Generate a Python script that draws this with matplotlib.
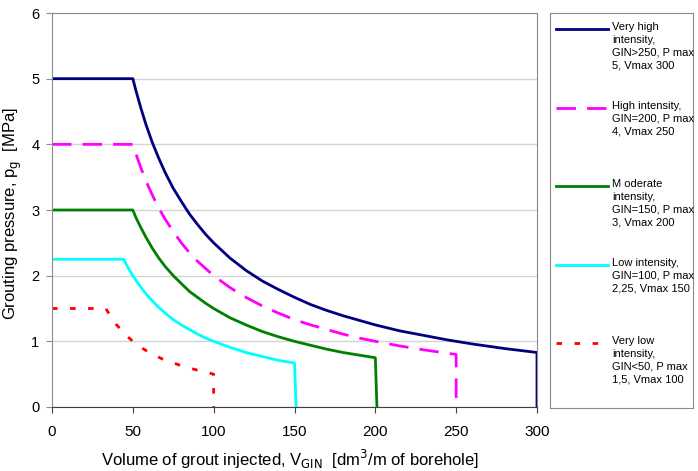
import numpy as np
from matplotlib import pyplot as plt

plt.rcParams['font.family'] = ['Liberation Sans', 'DejaVu Sans']

# Very high intensity, GIN>250
v_vh = [0, 50, 52, 55, 58, 62, 66, 70, 75, 80, 85, 90, 95, 100, 110, 120, 130, 140, 150, 160, 170,
        180, 190, 200, 215, 230, 245, 260, 280, 300, 300]
p_vh = [5, 5, 4.81, 4.55, 4.31, 4.03, 3.79, 3.57, 3.33, 3.13, 2.94, 2.78, 2.63, 2.5, 2.27, 2.08, 1.92,
        1.79, 1.67, 1.56, 1.47, 1.39, 1.32, 1.25, 1.16, 1.09, 1.02, 0.96, 0.89, 0.83, 0]

# High intensity, GIN=200
v_h = [0, 50, 52, 55, 58, 62, 66, 70, 75, 80, 85, 90, 95, 100, 110, 120, 130, 140, 150, 160, 170,
       180, 190, 200, 215, 230, 250, 250]
p_h = [4, 4, 3.85, 3.64, 3.45, 3.23, 3.03, 2.86, 2.67, 2.5, 2.35, 2.22, 2.11, 2.0, 1.82, 1.67, 1.54,
       1.43, 1.33, 1.25, 1.18, 1.11, 1.05, 1.0, 0.93, 0.87, 0.8, 0]

# Moderate intensity, GIN=150
v_m = [0, 50, 52, 55, 58, 62, 66, 70, 75, 80, 85, 90, 95, 100, 110, 120, 130, 140, 150, 160, 170,
       180, 190, 200, 201]
p_m = [3, 3, 2.88, 2.73, 2.59, 2.42, 2.27, 2.14, 2.0, 1.88, 1.76, 1.67, 1.58, 1.5, 1.36, 1.25, 1.15,
       1.07, 1.0, 0.94, 0.88, 0.83, 0.79, 0.75, 0]

# Low intensity, GIN=100
v_l = [0, 44.4, 46, 48, 50, 53, 56, 60, 65, 70, 75, 80, 85, 90, 95, 100, 110, 120, 130, 140, 150, 151]
p_l = [2.25, 2.25, 2.17, 2.08, 2.0, 1.89, 1.79, 1.67, 1.54, 1.43, 1.33, 1.25, 1.18, 1.11, 1.05, 1.0,
       0.91, 0.83, 0.77, 0.71, 0.67, 0]

# Very low intensity, GIN<50
v_vl = [0, 33.3, 36, 40, 45, 50, 55, 60, 70, 80, 90, 100, 100]
p_vl = [1.5, 1.5, 1.39, 1.25, 1.11, 1.0, 0.91, 0.83, 0.71, 0.63, 0.56, 0.5, 0]

labels = [
    "Very high\nintensity,\nGIN>250, P max\n5, Vmax 300",
    "High intensity,\nGIN=200, P max\n4, Vmax 250",
    "M oderate\nintensity,\nGIN=150, P max\n3, Vmax 200",
    "Low intensity,\nGIN=100, P max\n2,25, Vmax 150",
    "Very low\nintensity,\nGIN<50, P max\n1,5, Vmax 100",
]
colors = ["#000080", "#FF00FF", "#008000", "#00FFFF", "#FF0000"]
dash = [None, (7, 4), None, None, (2, 4.5)]

fig = plt.figure(figsize=(6.98, 4.71), dpi=100)
ax = fig.add_axes([52/698, 64/471, 485/698, 394/471])

lw = 2.0
series = [(v_vh, p_vh), (v_h, p_h), (v_m, p_m), (v_l, p_l), (v_vl, p_vl)]
for (v, p), c, d in zip(series, colors, dash):
    ln, = ax.plot(v, p, "-", color=c, lw=lw)
    if d:
        ln.set_dashes(d)

ax.set_xlim(0, 300)
ax.set_ylim(0, 6)
ax.set_xticks(np.arange(0, 301, 50))
ax.set_yticks(np.arange(0, 7, 1))
ax.yaxis.grid(True, color="#d4d4d4", lw=1)
ax.set_axisbelow(True)
for s in ["left", "top", "right"]:
    ax.spines[s].set_color("#8c8c8c")
ax.spines["bottom"].set_color("#404040")
ax.tick_params(axis="both", length=4, color="#8c8c8c", labelsize=10.5, colors="#000000", pad=5)
ax.tick_params(axis="x", color="#404040", pad=9, labelsize=11)

ax.set_xlabel("Volume of grout injected, V$_{\\mathrm{GIN}}$  [dm$^3$/m of borehole]", fontsize=12)
ax.set_ylabel("Grouting pressure, p$_{\\mathrm{g}}$  [MPa]", fontsize=12)
ax.xaxis.set_label_coords(0.49, -0.103)
ax.yaxis.set_label_coords(-0.057, 0.49)

# legend box
lax = fig.add_axes([550/698, 63/471, 143/698, 395/471])
lax.set_xlim(0, 143)
lax.set_ylim(395, 0)
lax.set_xticks([])
lax.set_yticks([])
for s in lax.spines.values():
    s.set_color("#8c8c8c")
ys = [16, 95, 173, 252, 330]
for lab, y, c, d in zip(labels, ys, colors, dash):
    h, = lax.plot([6, 58], [y, y], color=c, lw=lw)
    if d:
        h.set_dashes(d)
    lax.text(62, y - 7, lab, fontsize=8, va="top", ha="left", linespacing=1.35)

fig.savefig("out.png", dpi=100)
